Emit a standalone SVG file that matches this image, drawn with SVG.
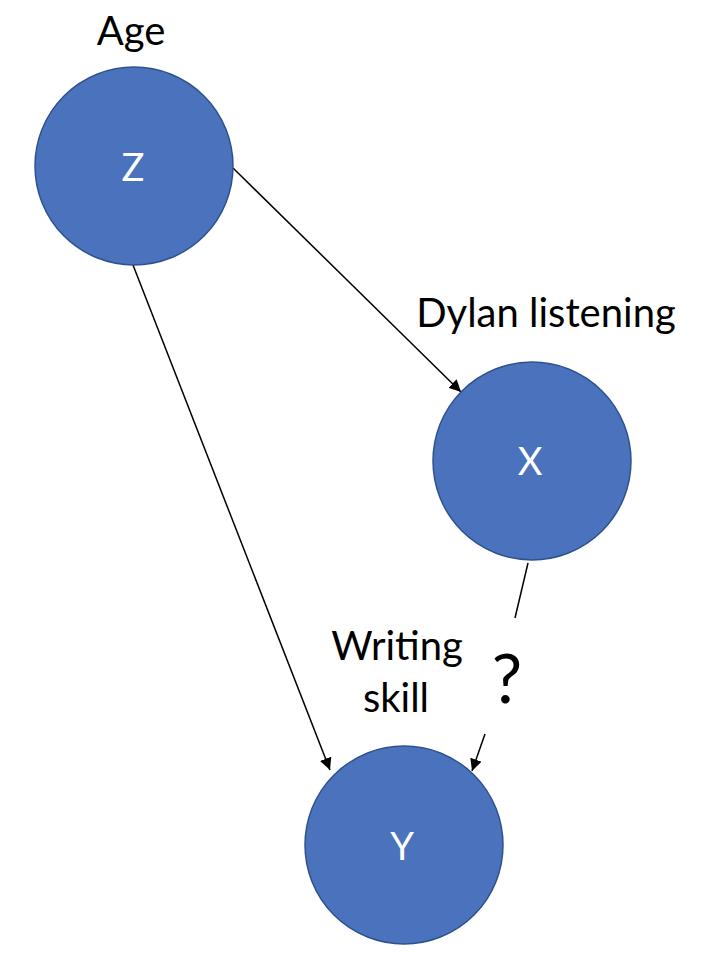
<svg xmlns="http://www.w3.org/2000/svg" width="704" height="970" viewBox="0 0 704 970">
<style>
.node{fill:#4A72BD;stroke:#2F528F;stroke-width:1.5}
.nl{font-family:Lato,"Liberation Sans",sans-serif;font-size:38px;fill:#fff;text-anchor:middle}
.lab{font-family:Lato,"Liberation Sans",sans-serif;font-size:40px;fill:#000;text-anchor:middle}
.edge{stroke:#000;stroke-width:1.5;fill:none}
</style>
<defs>
<marker id="ah2" viewBox="0 0 10 10" refX="10" refY="5" markerWidth="12" markerHeight="12" markerUnits="userSpaceOnUse" orient="auto">
<path d="M0,0 L10,5 L0,10 z" fill="#000"/>
</marker>
</defs>
<g id="edges">
<line class="edge" x1="233" y1="168" x2="461" y2="392" marker-end="url(#ah2)"/>
<line class="edge" x1="133" y1="265" x2="330" y2="770" marker-end="url(#ah2)"/>
<line class="edge" x1="528" y1="563" x2="515" y2="618"/>
<line class="edge" x1="485" y1="734" x2="472" y2="771" marker-end="url(#ah2)"/>
<text class="lab" x="507" y="703" style="font-size:68px">?</text>
</g>
<g id="Z">
<circle class="node" cx="134" cy="166" r="99"/>
<text class="nl" x="133" y="181">Z</text>
<text class="lab" x="131" y="45">Age</text>
</g>
<g id="X">
<circle class="node" cx="532" cy="461" r="99"/>
<text class="nl" x="530" y="475">X</text>
<text class="lab" x="546" y="327">Dylan listening</text>
</g>
<g id="Y">
<circle class="node" cx="404" cy="845" r="99"/>
<text class="nl" x="402" y="860">Y</text>
<text class="lab" x="397" y="660">Writing</text>
<text class="lab" x="396" y="712">skill</text>
</g>
</svg>
